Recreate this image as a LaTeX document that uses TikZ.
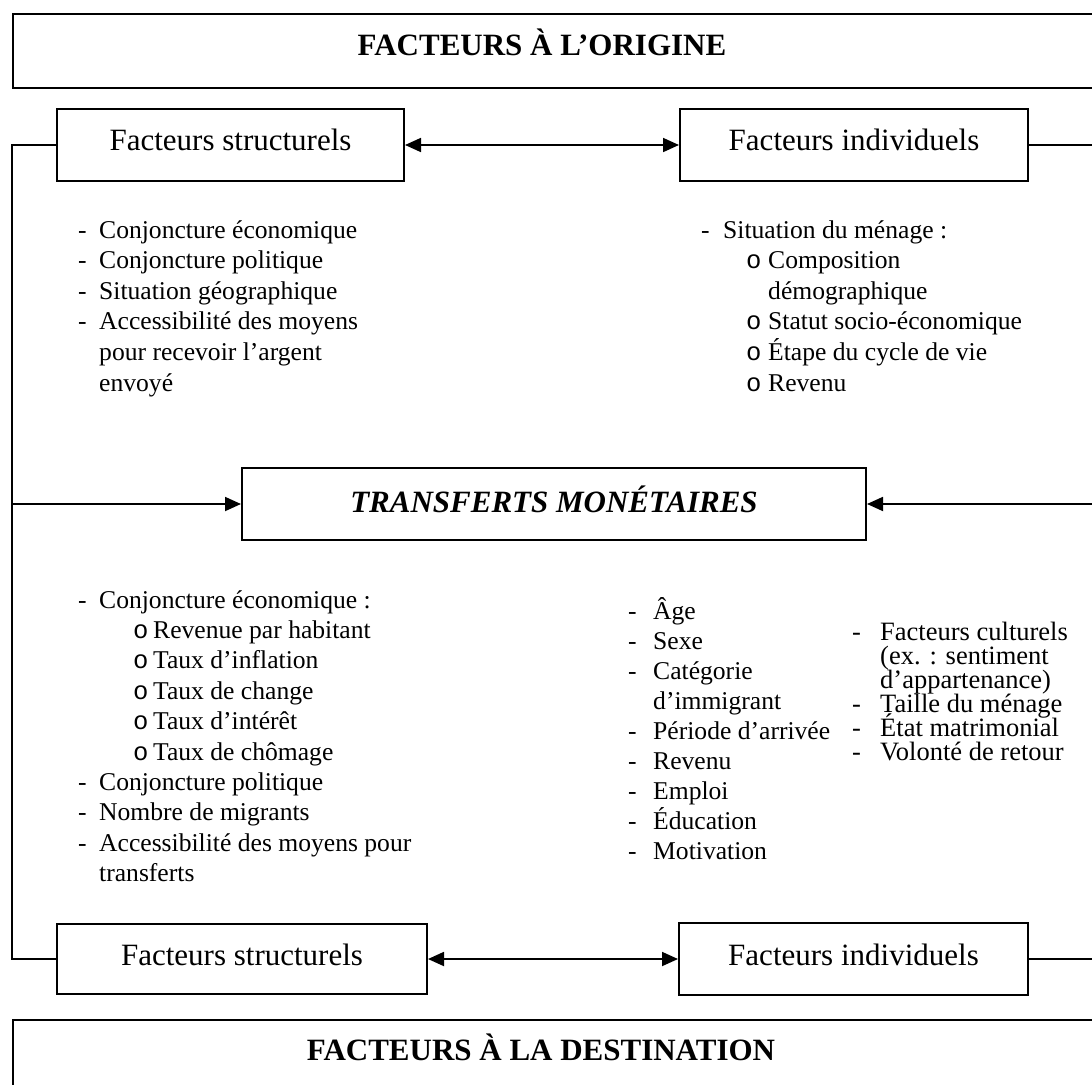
\documentclass[tikz,border=0pt]{standalone}
\usepackage{fontspec}
\setmainfont{Liberation Serif}
\newfontfamily\bulfont{Liberation Mono}
\usetikzlibrary{arrows.meta}
\tikzset{
 box/.style={draw, line width=2pt, rectangle, inner sep=0pt},
 lbl/.style={anchor=base, inner sep=0pt, font=\fontsize{31}{37}\selectfont},
 ttl/.style={anchor=base, inner sep=0pt, font=\fontsize{31}{37}\selectfont\bfseries},
 lt/.style={anchor=base west, inner sep=0pt, font=\fontsize{25.6}{30}\selectfont},
 rt/.style={anchor=base west, inner sep=0pt, font=\fontsize{26.5}{30}\selectfont},
 bul/.style={anchor=base west, inner sep=0pt, font=\fontsize{25.6}{30}\bulfont},
 con/.style={line width=1.8pt},
 arr/.style={con, -{Triangle[length=16pt,width=14pt]}},
 arrb/.style={con, {Triangle[length=16pt,width=14pt]}-{Triangle[length=16pt,width=14pt]}},
}
\newcommand\itm[4]{\node[lt] (#1) at (#2,#3) {#4};}
\newcommand\dsh[3]{\node[lt] (#1) at (#2,#3) {-};}
\newcommand\obul[3]{\node[bul] (#1) at (#2,#3) {o};}
\newcommand\ritm[4]{\node[rt] (#1) at (#2,#3) {#4};}
\begin{document}
\begin{tikzpicture}[x=1pt,y=-1pt]
\useasboundingbox (0,0) rectangle (1092,1084);
\clip (0,0) rectangle (1092,1084);
\fill[white] (0,0) rectangle (1092,1084);

% big boxes
\node[box, anchor=north west, minimum width=1090pt, minimum height=74pt] (top) at (12,13) {};
\node[ttl] (toptxt) at (542,55) {FACTEURS À L’ORIGINE};
\node[box, anchor=north west, minimum width=1090pt, minimum height=90pt] (bot) at (12,1019) {};
\node[ttl] (bottxt) at (541,1060) {FACTEURS À LA DESTINATION};

% factor boxes
\node[box, minimum width=347pt, minimum height=72pt] (fsA) at (230.5,145) {};
\node[lbl] (fsAt) at (230.5,150) {Facteurs structurels};
\node[box, minimum width=348pt, minimum height=72pt] (fiA) at (854,145) {};
\node[lbl] (fiAt) at (854,150) {Facteurs individuels};
\node[box, minimum width=624pt, minimum height=72pt] (tm) at (554,504) {};
\node[lbl, font=\fontsize{31}{37}\selectfont\bfseries\itshape] (tmt) at (554,512) {TRANSFERTS MONÉTAIRES};
\node[box, minimum width=370pt, minimum height=70pt] (fsB) at (242,959) {};
\node[lbl] (fsBt) at (242,965) {Facteurs structurels};
\node[box, minimum width=349pt, minimum height=72pt] (fiB) at (853.5,959) {};
\node[lbl] (fiBt) at (853.5,965) {Facteurs individuels};

% connectors
\coordinate (cTL) at (12,145);
\coordinate (cBL) at (12,959);
\coordinate (cML) at (12,504);
\coordinate (cTR) at (1104,145);
\coordinate (cBR) at (1104,959);
\coordinate (cMR) at (1104,504);
\draw[con] (fsA.west) -- (cTL) -- (cBL) -- (fsB.west);
\draw[con] (fiA.east) -- (cTR) -- (cBR) -- (fiB.east);
\draw[arr] (cML) -- (tm.west);
\draw[arr] (cMR) -- (tm.east);
\draw[arrb] (fsA.east) -- (fiA.west);
\draw[arrb] (fsB.east) -- (fiB.west);

% upper left list
\dsh{ula}{78}{238}   \itm{ul1}{99}{238}{Conjoncture économique}
\dsh{ulb}{78}{268.6} \itm{ul2}{99}{268.6}{Conjoncture politique}
\dsh{ulc}{78}{299.2} \itm{ul3}{99}{299.2}{Situation géographique}
\dsh{uld}{78}{329.8} \itm{ul4}{99}{329.8}{Accessibilité des moyens}
\itm{ul5}{99}{360.4}{pour recevoir l’argent}
\itm{ul6}{99}{391}{envoyé}

% upper right list
\dsh{ura}{701}{238} \itm{ur1}{723}{238}{Situation du ménage :}
\obul{urb}{746}{268.6} \itm{ur2}{768}{268.6}{Composition}
\itm{ur3}{768}{299.2}{démographique}
\obul{urc}{746}{329.8} \itm{ur4}{768}{329.8}{Statut socio-économique}
\obul{urd}{746}{360.4} \itm{ur5}{768}{360.4}{Étape du cycle de vie}
\obul{ure}{746}{391}   \itm{ur6}{768}{391}{Revenu}

% lower left list
\dsh{lla}{78}{608} \itm{ll1}{99}{608}{Conjoncture économique :}
\obul{llb}{133}{638.4} \itm{ll2}{153}{638.4}{Revenue par habitant}
\obul{llc}{133}{668.8} \itm{ll3}{153}{668.8}{Taux d’inflation}
\obul{lld}{133}{699.2} \itm{ll4}{153}{699.2}{Taux de change}
\obul{lle}{133}{729.6} \itm{ll5}{153}{729.6}{Taux d’intérêt}
\obul{llf}{133}{760}   \itm{ll6}{153}{760}{Taux de chômage}
\dsh{llg}{78}{790.4} \itm{ll7}{99}{790.4}{Conjoncture politique}
\dsh{llh}{78}{820.8} \itm{ll8}{99}{820.8}{Nombre de migrants}
\dsh{lli}{78}{851.2} \itm{ll9}{99}{851.2}{Accessibilité des moyens pour}
\itm{ll10}{99}{881.6}{transferts}

% lower middle list
\dsh{lma}{628}{619} \itm{lm1}{653}{619}{Âge}
\dsh{lmb}{628}{649} \itm{lm2}{653}{649}{Sexe}
\dsh{lmc}{628}{679} \itm{lm3}{653}{679}{Catégorie}
\itm{lm4}{653}{709}{d’immigrant}
\dsh{lme}{628}{739} \itm{lm5}{653}{739}{Période d’arrivée}
\dsh{lmf}{628}{769} \itm{lm6}{653}{769}{Revenu}
\dsh{lmg}{628}{799} \itm{lm7}{653}{799}{Emploi}
\dsh{lmh}{628}{829} \itm{lm8}{653}{829}{Éducation}
\dsh{lmi}{628}{859} \itm{lm9}{653}{859}{Motivation}

% lower right list
\ritm{lra}{852}{640}{-} \ritm{lr1}{880}{640}{Facteurs culturels}
\ritm{lr2}{880}{664}{(ex. : sentiment}
\ritm{lr3}{880}{688}{d’appartenance)}
\ritm{lrd}{852}{712}{-} \ritm{lr4}{880}{712}{Taille du ménage}
\ritm{lre}{852}{736}{-} \ritm{lr5}{880}{736}{État matrimonial}
\ritm{lrf}{852}{760}{-} \ritm{lr6}{880}{760}{Volonté de retour}
\end{tikzpicture}
\end{document}
